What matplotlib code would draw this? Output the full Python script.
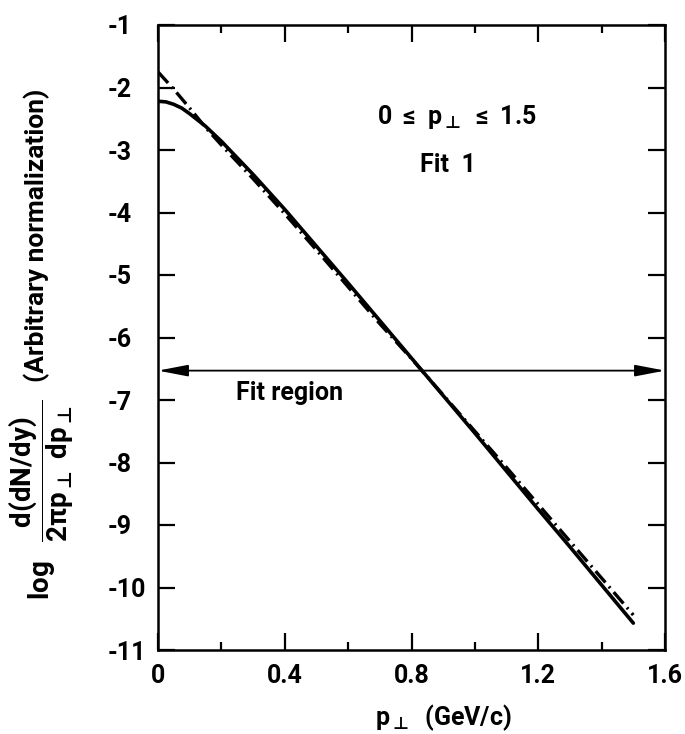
import matplotlib
matplotlib.use("Agg")
import matplotlib.pyplot as plt
from matplotlib.ticker import FixedLocator, FixedFormatter

FONT = "Roboto"
plt.rcParams["font.family"] = [FONT, "DejaVu Sans"]
plt.rcParams["font.weight"] = "bold"
plt.rcParams["mathtext.fontset"] = "custom"
plt.rcParams["mathtext.rm"] = FONT + ":bold"
plt.rcParams["mathtext.it"] = FONT + ":bold"
plt.rcParams["mathtext.bf"] = FONT + ":bold"
# symbol font for the "perpendicular" subscript
plt.rcParams["mathtext.sf"] = "DejaVu Sans:bold"
plt.rcParams["axes.unicode_minus"] = False

PERP = r"p_{\mathsf{\bot}}"

# Fit 1 curves: log of invariant spectrum vs transverse momentum
pt_solid = [0.0, 0.025, 0.05, 0.075, 0.1, 0.15, 0.2, 0.3, 0.4, 0.5, 0.6, 0.7,
            0.8, 0.9, 1.0, 1.1, 1.2, 1.3, 1.4, 1.5]
log_solid = [-2.22, -2.23, -2.27, -2.33, -2.42, -2.62, -2.86, -3.39, -3.95, -4.54,
             -5.13, -5.73, -6.33, -6.93, -7.53, -8.14, -8.75, -9.35, -9.96, -10.57]

pt_dashdot = [0.0, 0.05, 0.1, 0.15, 0.2, 0.3, 0.4, 0.5, 0.6, 0.7, 0.8, 0.9,
              1.0, 1.1, 1.2, 1.3, 1.4, 1.5]
log_dashdot = [-1.75, -2.03, -2.33, -2.64, -2.92, -3.46, -4.02, -4.60, -5.19, -5.78,
               -6.34, -6.92, -7.50, -8.08, -8.67, -9.26, -9.85, -10.44]

x_major = [0.0, 0.4, 0.8, 1.2, 1.6]
x_major_labels = ["0", "0.4", "0.8", "1.2", "1.6"]
x_minor = [0.2, 0.6, 1.0, 1.4]
y_major = [-1, -2, -3, -4, -5, -6, -7, -8, -9, -10, -11]
y_major_labels = ["-1", "-2", "-3", "-4", "-5", "-6", "-7", "-8", "-9", "-10", "-11"]

fit_region = (0.0, 1.6)
fit_region_level = -6.53

W, H = 685, 734
fig = plt.figure(figsize=(W / 100, H / 100), dpi=100)
ax = fig.add_axes([158 / W, 1 - 650 / H, (665 - 158) / W, (650 - 25) / H])

ax.plot(pt_solid, log_solid, color="black", lw=2.6, solid_capstyle="round")
ax.plot(pt_dashdot, log_dashdot, color="black", lw=2.4,
        dashes=(4.5, 1.6, 0.6, 1.6))

ax.annotate("", xy=(fit_region[0], fit_region_level),
            xytext=(fit_region[1], fit_region_level),
            arrowprops=dict(arrowstyle="<|-|>,head_length=1.3,head_width=0.25",
                            color="black", lw=1.3, shrinkA=0, shrinkB=0,
                            mutation_scale=14))

ax.text(0.415, -6.89, "Fit region", fontsize=18, ha="center", va="center")
ax.text(0.943, -2.47, r"$0\ \leq\ " + PERP + r"\ \leq\ 1.5$", fontsize=18,
        ha="center", va="center")
ax.text(0.915, -3.24, "Fit  1", fontsize=18, ha="center", va="center")

ax.set_xlim(0, 1.6)
ax.set_ylim(-11, -1)

ax.xaxis.set_major_locator(FixedLocator(x_major))
ax.xaxis.set_major_formatter(FixedFormatter(x_major_labels))
ax.xaxis.set_minor_locator(FixedLocator(x_minor))
ax.yaxis.set_major_locator(FixedLocator(y_major))
ax.yaxis.set_major_formatter(FixedFormatter(y_major_labels))

ax.tick_params(axis="both", which="both", direction="in", top=True, right=True,
               width=1.6, labelsize=18)
ax.tick_params(axis="both", which="major", length=12)
ax.tick_params(axis="x", which="minor", length=6)
ax.tick_params(axis="x", which="major", pad=10)
ax.tick_params(axis="y", which="major", pad=36)
for lab in ax.get_yticklabels():
    lab.set_horizontalalignment("left")

for sp in ax.spines.values():
    sp.set_linewidth(1.8)

fig.text(443 / W, 1 - 718 / H, "$" + PERP + "$  (GeV/c)", fontsize=18,
         ha="center", va="center")

fig.text(0.060, 1 - 500 / H,
         r"$\log\ \ \dfrac{d(dN/dy)}{2\pi " + PERP + r"\ d" + PERP + "}$",
         fontsize=20, rotation=90, ha="center", va="center")
fig.text(37 / W, 1 - 235 / H, "(Arbitrary normalization)", fontsize=19,
         rotation=90, ha="center", va="center")

fig.savefig("out.png", dpi=100)
